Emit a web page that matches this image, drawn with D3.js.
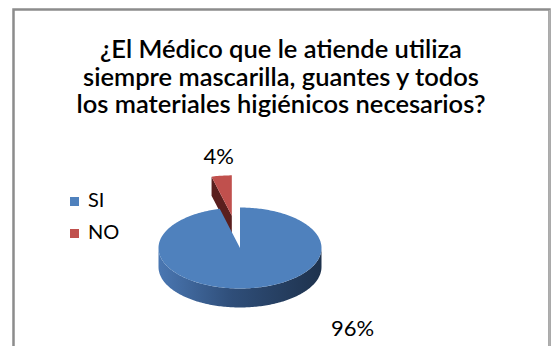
<!DOCTYPE html>
<html>
<head>
<meta charset="utf-8">
<script src="https://cdn.jsdelivr.net/npm/d3@7"></script>
<style>
  html, body { margin: 0; padding: 0; background: #fff; }
  svg { display: block; }
</style>
</head>
<body>
<div id="viz"></div>
<script>
var width = 551,
  height = 346

// chart data
var titleLines = [
  "¿El Médico que le atiende utiliza",
  "siempre mascarilla, guantes y todos",
  "los materiales higiénicos necesarios?"
]
var categories = ["SI", "NO"]
var values = [96, 4]
var labels = ["96%", "4%"]
var colors = ["#4f81bd", "#c0504d"]
var darkColors = ["#1f3450", "#5a1f1e"]
var exploded = [0, 0.8]

var font = "Lato, 'Open Sans', sans-serif"

var svg = d3.select("#viz").append("svg")
  .attr("width", width)
  .attr("height", height)

// frame
svg.append("rect")
  .attr("x", 13.5).attr("y", 9.5)
  .attr("width", 536).attr("height", 360)
  .attr("fill", "#fff")
  .attr("stroke", "#8c8c8c")
  .attr("stroke-width", 2.5)
svg.append("line")
  .attr("x1", 549.5).attr("x2", 549.5).attr("y1", 10).attr("y2", height)
  .attr("stroke", "#b0b0b0").attr("stroke-width", 1.5)

// title
var title = svg.append("g")
title.selectAll("text")
  .data(titleLines)
  .enter()
  .append("text")
  .attr("x", 281)
  .attr("y", function(d, i) { return 58 + i * 27.5 })
  .attr("text-anchor", "middle")
  .style("font-family", font)
  .style("font-weight", 600)
  .style("font-size", "20px")
  .attr("fill", "#000")
  .text(function(d) { return d })

// fit title width to the reference (last line ~409px wide)
var lastW = title.selectAll("text").nodes()[2].getComputedTextLength()
var fs = 20 * 409 / lastW
title.selectAll("text").style("font-size", fs.toFixed(2) + "px")

// pie geometry (3d ellipse)
var cx = 240, cy = 248, rx = 81.5, ry = 40.5, depth = 19

var pie = d3.pie().sort(null).value(function(d) { return d })
var arcs = pie(values).map(function(a, i) {
  var mid = (a.startAngle + a.endAngle) / 2
  a.ox = exploded[i] * rx * Math.sin(mid)
  a.oy = -exploded[i] * ry * Math.cos(mid)
  a.i = i
  return a
})

function pt(a, ang, r, z) {
  return [cx + a.ox + r * rx * Math.sin(ang), cy + a.oy - r * ry * Math.cos(ang) + z * depth]
}

function arcPts(a, a0, a1, z) {
  var pts = [], n = Math.max(2, Math.ceil(Math.abs(a1 - a0) / 0.02))
  for (var k = 0; k <= n; k++) pts.push(pt(a, a0 + (a1 - a0) * k / n, 1, z))
  return pts
}

var line = d3.line()

var defs = svg.append("defs")
var grad = defs.append("linearGradient")
  .attr("id", "sideBlue")
  .attr("gradientUnits", "userSpaceOnUse")
  .attr("x1", cx - rx).attr("x2", cx + rx).attr("y1", 0).attr("y2", 0)
grad.append("stop").attr("offset", "0%").attr("stop-color", "#4a77b2")
grad.append("stop").attr("offset", "45%").attr("stop-color", "#2f4e79")
grad.append("stop").attr("offset", "100%").attr("stop-color", "#1e324d")

var pieG = svg.append("g")

// back (exploded) slice first, then the big one
var order = arcs.slice().sort(function(a, b) { return a.oy - b.oy })

order.forEach(function(a) {
  var g = pieG.append("g")
  // outer wall, front half only
  var f0 = Math.max(a.startAngle, Math.PI / 2),
    f1 = Math.min(a.endAngle, Math.PI * 1.5)
  if (f1 > f0) {
    var wall = arcPts(a, f0, f1, 0).concat(arcPts(a, f1, f0, 1))
    g.append("path")
      .attr("d", line(wall) + "Z")
      .attr("fill", a.i == 0 ? "url(#sideBlue)" : darkColors[a.i])
  }
  // radial cut faces, only those turned towards the viewer
  ;[a.startAngle, a.endAngle].forEach(function(ang, k) {
    var normAng = k == 0 ? ang - Math.PI / 2 : ang + Math.PI / 2
    if (-Math.cos(normAng) > 0.05) {
      var c0 = pt(a, 0, 0, 0), c1 = pt(a, 0, 0, 1)
      var e0 = pt(a, ang, 1, 0), e1 = pt(a, ang, 1, 1)
      g.append("path")
        .attr("d", line([c0, e0, e1, c1]) + "Z")
        .attr("fill", darkColors[a.i])
    }
  })
  // top face
  var top = [pt(a, 0, 0, 0)].concat(arcPts(a, a.startAngle, a.endAngle, 0))
  g.append("path")
    .attr("d", line(top) + "Z")
    .attr("fill", colors[a.i])
})

// data labels
var red = arcs[1]
var redTop = arcPts(red, red.startAngle, red.endAngle, 0)
svg.append("text")
  .attr("x", d3.mean(redTop, function(p) { return p[0] }) - 3)
  .attr("y", d3.min(redTop, function(p) { return p[1] }) - 11)
  .attr("text-anchor", "middle")
  .style("font-family", font)
  .style("font-size", "22px")
  .text(labels[1])
svg.append("text")
  .attr("x", cx + rx * 1.38)
  .attr("y", cy + ry + depth + 28)
  .attr("text-anchor", "middle")
  .style("font-family", font)
  .style("font-size", "22px")
  .text(labels[0])

// legend
var legend = svg.append("g").attr("transform", "translate(70,193)")
var item = legend.selectAll("g")
  .data(categories)
  .enter()
  .append("g")
  .attr("transform", function(d, i) { return "translate(0," + i * 32 + ")" })
item.append("rect")
  .attr("width", 9).attr("height", 9).attr("y", 4)
  .attr("fill", function(d, i) { return colors[i] })
item.append("text")
  .attr("x", 18).attr("y", 14)
  .style("font-family", font)
  .style("font-size", "20px")
  .text(function(d) { return d })
</script>
</body>
</html>
